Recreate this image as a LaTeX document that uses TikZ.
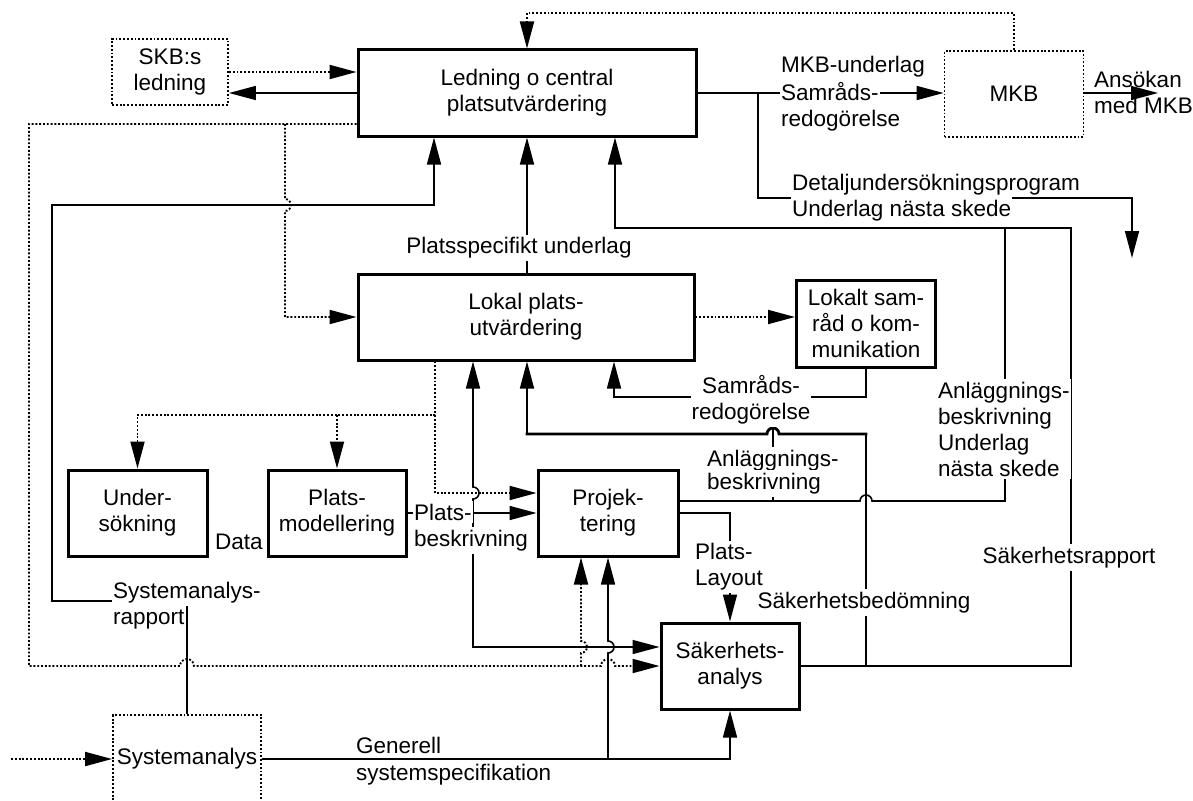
\documentclass[tikz,border=0pt]{standalone}
\usepackage{fontspec}
\setmainfont{Liberation Sans}
\usetikzlibrary{arrows.meta}
\begin{document}
\begin{tikzpicture}[x=1pt,y=-1pt,
  every node/.style={font=\fontsize{22.5pt}{26pt}\selectfont, inner sep=0pt},
  box/.style={draw, line width=3pt, align=center, minimum width=#1, minimum height=86pt},
  dbox/.style={draw, line width=1.9pt, dash pattern=on 1.9pt off 1.9pt, align=center, minimum width=#1, minimum height=86pt},
  ln/.style={line width=1.6pt},
  thk/.style={line width=2.8pt, line cap=rect},
  dt/.style={line width=1.9pt, dash pattern=on 1.9pt off 1.9pt},
  arr/.style={-{Triangle[length=27pt,width=14pt]}},
  lab/.style={fill=white, inner xsep=1pt, inner ysep=3pt},
  nlab/.style={inner xsep=1pt},
]
\path[fill=white, use as bounding box] (0,0) rectangle (1193,800);

% ---------- boxes ----------
\node[dbox=116pt, minimum height=66pt] (skb) at (170,72) {SKB:s\\ledning};
\node[box=338pt] (led) at (527,93) {Ledning o central\\platsutvärdering};
\node[dbox=139pt] (mkb) at (1014,94) {MKB};
\node[box=336pt] (lok) at (526,317) {Lokal plats-\\utvärdering};
\node[box=139pt, minimum height=87pt] (lks) at (866,323.5) {Lokalt sam-\\råd o kom-\\munikation};
\node[box=139pt] (und) at (137.5,513) {Under-\\sökning};
\node[box=138pt] (pmod) at (337,513) {Plats-\\modellering};
\node[box=140pt] (proj) at (608,513) {Projek-\\tering};
\node[box=138pt] (sak) at (730,666) {Säkerhets-\\analys};
\node[dbox=148pt, minimum height=88pt] (sys) at (187,759) {Systemanalys};

% ---------- coordinates ----------
\coordinate (tl) at (527,13);
\coordinate (lp1) at (29,124);
\coordinate (lp2) at (29,666);
\coordinate (lp3) at (285,124);
\coordinate (lp4) at (581,666);
\coordinate (sr1) at (187,601);
\coordinate (sr2) at (52,601);
\coordinate (sr3) at (52,205);
\coordinate (sr4) at (434,205);
\coordinate (m1) at (758,93);
\coordinate (m2) at (758,198);
\coordinate (m3) at (1132,198);
\coordinate (m4) at (1132,258);
\coordinate (ans) at (1158,93);
\coordinate (s1) at (866,397);
\coordinate (s2) at (614,397);
\coordinate (u1) at (435,415);
\coordinate (u3) at (435,493);
\coordinate (pb) at (473,513);
\coordinate (pb2) at (473,647);
\coordinate (a1) at (1005,501);
\coordinate (a2) at (1005,228);
\coordinate (j1) at (615,228);
\coordinate (j2) at (1071,228);
\coordinate (k1) at (866,666);
\coordinate (k2) at (1071,666);
\coordinate (k3) at (866,434);
\coordinate (k4) at (527,434);
\coordinate (v1) at (773,501);
\coordinate (v2) at (773,397);
\coordinate (pl) at (730,513);
\coordinate (g2) at (608,759);
\coordinate (sin) at (11,759);

% ---------- dotted connectors ----------
\draw[dt,arr] (mkb.north) -- (mkb.north |- tl) -- (tl) -- (led.north);
\draw[dt,arr] (skb.east) -- (skb.east -| led.west);
\draw[dt,arr] (led.west |- lp1) -- (lp1) -- (lp2) -- (180,666)
   arc[start angle=180,end angle=360,radius=7] -- (601,666)
   arc[start angle=180,end angle=360,radius=7] -- (sak.west);
\draw[dt,arr] (lp3) -- (285,199) arc[start angle=-90,end angle=90,radius=6]
   -- (lp3 |- lok.west) -- (lok.west);
\draw[dt,arr] (lp4) -- (581,653) arc[start angle=90,end angle=-90,radius=6]
   -- (proj.south -| lp4);
\draw[dt,arr] (lok.east) -- (lok.east -| lks.west);
\draw[dt,arr] (lok.south -| u1) -- (u1) -- (und.north |- u1) -- (und.north);
\draw[dt,arr] (pmod.north |- u1) -- (pmod.north);
\draw[dt,arr] (u1) -- (u3) -- (proj.west |- u3);
\draw[dt,arr] (sin) -- (sys.west);

% ---------- solid connectors ----------
\draw[ln,arr] (led.west) -- (led.west -| skb.east);
\draw[ln,arr] (sys.north -| sr1) -- (sr1) -- (sr2) -- (sr3) -- (sr4) -- (led.south -| sr4);
\draw[ln,arr] (led.south |- lok.north) -- (led.south);
\draw[ln,arr] (led.east) -- (led.east -| mkb.west);
\draw[ln,arr] (m1) -- (m2) -- (m3) -- (m4);
\draw[ln,arr] (mkb.east |- ans) -- (ans);
\draw[ln,arr] (lks.south) -- (s1) -- (s2) -- (s2 |- lok.south);
\draw[ln,arr] (pmod.east) -- (proj.west);
\draw[ln,arr] (pb) -- (473,499) arc[start angle=90,end angle=-90,radius=6] -- (pb |- lok.south);
\draw[ln,arr] (pb) -- (pb2) -- (sak.west |- pb2);
\draw[ln] (proj.east |- a1) -- (860,501) arc[start angle=180,end angle=360,radius=6] -- (a1) -- (a2);
\draw[ln,arr] (sak.east) -- (k2) -- (j2) -- (j1) -- (j1 |- led.south);
\draw[ln] (k1) -- (k3);
\draw[thk] (k3) -- (779,434) arc[start angle=0,end angle=-180,radius=6] -- (k4);
\draw[ln,arr] (k4) -- (k4 |- lok.south);
\draw[ln] (v1) -- (v2);
\draw[ln,arr] (proj.east |- pl) -- (pl) -- (pl |- sak.north);
\draw[ln,arr] (sys.east) -- (sak.south |- sys.east) -- (sak.south);
\draw[ln,arr] (g2) -- (608,653) arc[start angle=90,end angle=-90,radius=6] -- (proj.south);

% ---------- labels ----------
\node[lab] (lpsu) at (519,248) {Platsspecifikt underlag};
\node[nlab, anchor=base west] (lmkbu) at (780,73) {MKB-underlag};
\node[lab, anchor=base west] (lsamr) at (780,100) {Samråds-};
\node[nlab, anchor=base west] (lredo) at (780,126) {redogörelse};
\node[nlab, anchor=base west] (ldet) at (791,190) {Detaljundersökningsprogram};
\node[lab, anchor=base west] (lund) at (791,216) {Underlag nästa skede};
\node[nlab, anchor=base west] (lans) at (1093,87) {Ansökan};
\node[nlab, anchor=base west] (lmed) at (1093,113) {med MKB};
\node[lab, align=center] (lsam2) at (751,400) {Samråds-\\redogörelse};
\node[lab, align=left, anchor=west] (lanl) at (937,429) {Anläggnings-\\beskrivning\\Underlag\\nästa skede};
\node[lab, anchor=base west] (lanl2a) at (706,466) {Anläggnings-};
\node[lab, anchor=base west] (lanl2b) at (706,489) {beskrivning};
\node[lab, anchor=base west] (lpb1) at (413,520) {Plats-};
\node[lab, anchor=base west] (lpb2) at (413,546) {beskrivning};
\node[nlab, anchor=base] (ldata) at (239,549) {Data};
\node[lab, align=left, anchor=west] (lpl) at (694,567) {Plats-\\Layout};
\node[lab, anchor=base] (lsrap) at (1069,563) {Säkerhetsrapport};
\node[lab, anchor=base] (lsbed) at (864,608) {Säkerhetsbedömning};
\node[lab, anchor=base west] (lsys1) at (112,598) {Systemanalys-};
\node[nlab, anchor=base west] (lsys2) at (112,624) {rapport};
\node[nlab, anchor=base west] (lgen1) at (355,753) {Generell};
\node[nlab, anchor=base west] (lgen2) at (355,780) {systemspecifikation};
\end{tikzpicture}
\end{document}
